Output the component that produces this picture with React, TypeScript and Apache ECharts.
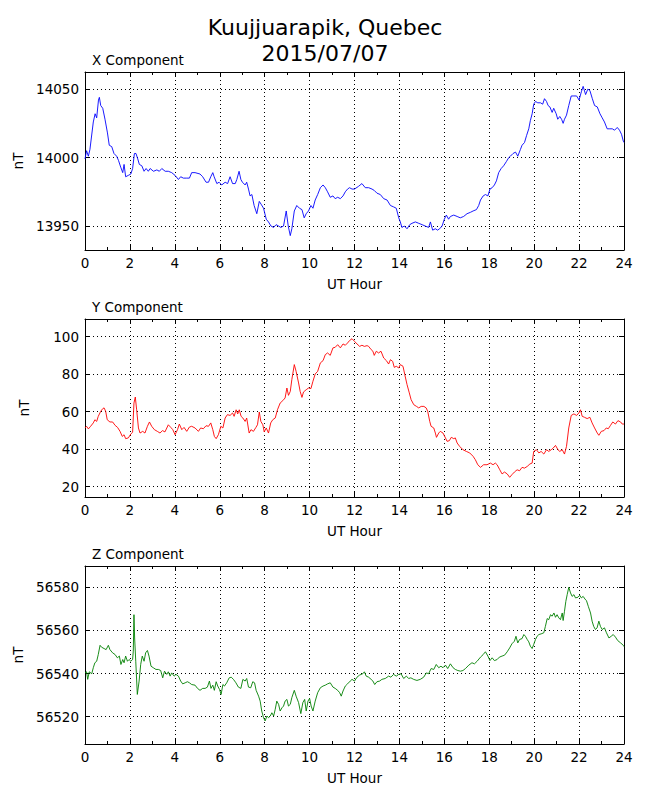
import React, { useEffect, useRef } from "react";
import * as echarts from "echarts";

const hoursX = [0, 0.07, 0.15, 0.22, 0.37, 0.45, 0.52, 0.6, 0.64, 0.7, 0.79, 0.89, 1.0, 1.08, 1.19, 1.29, 1.41, 1.49, 1.59, 1.68, 1.74, 1.81, 1.93, 2.04, 2.12, 2.2, 2.27, 2.35, 2.42, 2.53, 2.63, 2.72, 2.82, 2.9, 3.05, 3.2, 3.31, 3.42, 3.57, 3.71, 3.86, 4.01, 4.16, 4.26, 4.38, 4.53, 4.65, 4.75, 4.9, 5.12, 5.24, 5.39, 5.5, 5.6, 5.69, 5.75, 5.87, 5.97, 6.09, 6.24, 6.35, 6.46, 6.57, 6.69, 6.76, 6.86, 6.94, 7.01, 7.13, 7.2, 7.28, 7.35, 7.43, 7.53, 7.65, 7.76, 7.84, 7.95, 8.07, 8.17, 8.28, 8.4, 8.51, 8.62, 8.72, 8.84, 8.96, 9.05, 9.14, 9.21, 9.32, 9.43, 9.55, 9.66, 9.76, 9.85, 9.95, 10.06, 10.15, 10.25, 10.36, 10.48, 10.6, 10.7, 10.8, 10.92, 11.04, 11.14, 11.25, 11.37, 11.49, 11.59, 11.69, 11.78, 11.89, 12.0, 12.18, 12.33, 12.48, 12.63, 12.78, 12.88, 13.0, 13.15, 13.3, 13.45, 13.6, 13.74, 13.86, 13.97, 14.04, 14.11, 14.22, 14.34, 14.46, 14.56, 14.71, 14.86, 15.01, 15.15, 15.3, 15.38, 15.48, 15.6, 15.7, 15.79, 15.9, 16.0, 16.09, 16.19, 16.27, 16.42, 16.57, 16.71, 16.86, 17.01, 17.16, 17.28, 17.43, 17.53, 17.61, 17.73, 17.83, 17.94, 18.03, 18.13, 18.23, 18.32, 18.42, 18.53, 18.64, 18.76, 18.87, 18.94, 19.06, 19.17, 19.27, 19.39, 19.46, 19.57, 19.66, 19.76, 19.83, 19.91, 19.98, 20.06, 20.16, 20.28, 20.38, 20.46, 20.55, 20.62, 20.7, 20.8, 20.87, 20.98, 21.05, 21.14, 21.22, 21.29, 21.35, 21.44, 21.54, 21.65, 21.77, 21.89, 22.0, 22.1, 22.18, 22.29, 22.39, 22.48, 22.59, 22.69, 22.81, 22.93, 23.03, 23.13, 23.25, 23.37, 23.48, 23.58, 23.7, 23.8, 23.89, 23.97, 24.0];
const valuesX = [13999, 14005, 14001, 14006, 14026, 14032, 14029, 14042, 14044, 14038, 14036, 14028, 14018, 14009, 14008, 14003, 14001, 13998, 13993, 13989, 13995, 13986, 13987, 13988, 13992, 14003, 14003, 13999, 13995, 13994, 13990, 13992, 13990, 13992, 13990, 13991, 13990, 13992, 13990, 13990, 13989, 13987, 13984, 13986, 13985, 13985, 13985, 13989, 13989, 13988, 13986, 13982, 13982, 13986, 13989, 13986, 13981, 13982, 13980, 13982, 13981, 13986, 13981, 13981, 13984, 13990, 13984, 13982, 13980, 13982, 13977, 13972, 13973, 13965, 13959, 13968, 13966, 13963, 13955, 13953, 13950, 13949, 13951, 13950, 13949, 13950, 13961, 13950, 13943, 13948, 13961, 13965, 13963, 13962, 13956, 13959, 13961, 13965, 13963, 13969, 13973, 13978, 13980, 13978, 13975, 13971, 13972, 13970, 13971, 13970, 13972, 13975, 13977, 13978, 13977, 13977, 13979, 13981, 13978, 13978, 13977, 13976, 13974, 13973, 13970, 13969, 13965, 13964, 13963, 13956, 13953, 13949, 13950, 13948, 13951, 13952, 13953, 13952, 13951, 13950, 13949, 13953, 13947, 13948, 13947, 13948, 13950, 13955, 13958, 13955, 13957, 13958, 13957, 13956, 13957, 13959, 13960, 13961, 13962, 13965, 13969, 13972, 13973, 13972, 13977, 13978, 13980, 13983, 13989, 13992, 13994, 13997, 14000, 14001, 14003, 14004, 14001, 14006, 14009, 14011, 14016, 14021, 14027, 14032, 14039, 14041, 14040, 14040, 14039, 14043, 14041, 14038, 14037, 14033, 14036, 14032, 14028, 14030, 14028, 14025, 14028, 14031, 14038, 14045, 14045, 14045, 14042, 14048, 14052, 14046, 14050, 14049, 14043, 14038, 14037, 14032, 14029, 14026, 14021, 14021, 14021, 14020, 14022, 14020, 14017, 14012, 14011];

const hoursY = [0, 0.07, 0.15, 0.25, 0.37, 0.44, 0.52, 0.59, 0.7, 0.79, 0.85, 0.92, 0.99, 1.11, 1.23, 1.34, 1.45, 1.56, 1.66, 1.74, 1.81, 1.93, 2.04, 2.12, 2.18, 2.24, 2.3, 2.38, 2.45, 2.57, 2.67, 2.78, 2.87, 2.97, 3.09, 3.22, 3.34, 3.45, 3.56, 3.71, 3.82, 3.91, 4.01, 4.12, 4.2, 4.31, 4.41, 4.53, 4.65, 4.75, 4.9, 5.05, 5.15, 5.27, 5.39, 5.5, 5.6, 5.69, 5.76, 5.84, 5.94, 6.05, 6.14, 6.24, 6.34, 6.46, 6.57, 6.64, 6.73, 6.8, 6.87, 6.95, 7.03, 7.13, 7.2, 7.31, 7.39, 7.5, 7.61, 7.68, 7.76, 7.83, 7.92, 7.98, 8.07, 8.17, 8.27, 8.36, 8.47, 8.57, 8.69, 8.81, 8.91, 8.99, 9.06, 9.14, 9.21, 9.32, 9.4, 9.51, 9.58, 9.66, 9.73, 9.85, 9.95, 10.06, 10.15, 10.25, 10.36, 10.48, 10.6, 10.7, 10.8, 10.92, 11.04, 11.14, 11.25, 11.37, 11.49, 11.59, 11.69, 11.78, 11.89, 12.0, 12.11, 12.23, 12.33, 12.44, 12.56, 12.63, 12.74, 12.82, 12.88, 12.97, 13.07, 13.18, 13.3, 13.42, 13.52, 13.6, 13.7, 13.77, 13.86, 13.97, 14.04, 14.16, 14.24, 14.34, 14.44, 14.52, 14.64, 14.76, 14.86, 14.97, 15.09, 15.19, 15.26, 15.35, 15.41, 15.53, 15.6, 15.65, 15.75, 15.82, 15.94, 16.05, 16.12, 16.22, 16.31, 16.42, 16.49, 16.57, 16.68, 16.83, 16.98, 17.13, 17.28, 17.38, 17.49, 17.61, 17.75, 17.9, 18.05, 18.17, 18.27, 18.35, 18.47, 18.57, 18.68, 18.8, 18.91, 19.01, 19.12, 19.24, 19.35, 19.46, 19.57, 19.69, 19.81, 19.91, 19.98, 20.1, 20.21, 20.31, 20.43, 20.55, 20.65, 20.76, 20.85, 20.95, 21.06, 21.14, 21.25, 21.35, 21.44, 21.54, 21.65, 21.77, 21.89, 21.99, 22.06, 22.14, 22.24, 22.36, 22.48, 22.58, 22.69, 22.81, 22.88, 22.99, 23.11, 23.21, 23.3, 23.4, 23.5, 23.62, 23.73, 23.85, 23.92, 24.0];
const valuesY = [51.3, 52.2, 50.8, 52.2, 54, 55.7, 54.8, 57.5, 60.2, 61.6, 62, 60.2, 55.7, 54.5, 54.5, 52.7, 51.6, 49.5, 46.8, 47.7, 45.6, 46, 48.1, 49, 64.6, 67.8, 61, 51.3, 48.6, 49.5, 48.6, 52.2, 54.5, 52.2, 50.4, 49.5, 48.6, 49.9, 49.2, 53, 51.6, 50.4, 47.7, 50.4, 53.4, 50.4, 51.6, 49.5, 51.8, 52.2, 51.3, 49.5, 51.3, 50.9, 52.5, 52.2, 54, 50.4, 46.8, 45.6, 47.7, 52.2, 51.3, 56.6, 58.4, 58, 59.3, 57.5, 61, 58.8, 61, 57.5, 56.6, 54.8, 56.6, 48.6, 50.4, 49.5, 51.6, 53, 59.8, 54.8, 53, 49.2, 51.3, 48.6, 54, 55.7, 56.6, 61, 64.6, 65.9, 67.3, 72.6, 68.7, 70.8, 77.1, 85.1, 81.5, 75.3, 70.8, 67.6, 70.5, 71.7, 72.6, 72.3, 76.2, 80.1, 81.5, 86, 87.2, 90.4, 91.3, 90, 94, 94.3, 95.7, 94, 96.1, 95.4, 96.6, 97.9, 98.9, 97.5, 96.1, 94.8, 95.4, 94.8, 95.2, 94.8, 93.1, 92.2, 90, 92.2, 91.3, 92.2, 88.6, 87.2, 85.4, 87.7, 86.8, 83.6, 84.2, 83.3, 85.1, 84.2, 79.7, 74.4, 70, 66.4, 63.7, 62.8, 62, 62.8, 62.8, 62, 60.2, 54.8, 52.2, 51.3, 48.6, 46.3, 48.6, 49.5, 48.6, 46, 44.2, 44.5, 46.3, 45.6, 46, 43.3, 41.5, 39.7, 38.8, 38, 36.2, 34.4, 31.7, 30.3, 31.7, 31.7, 32.6, 31.7, 32.6, 31.7, 29, 26.8, 27.8, 26.8, 25, 26.4, 27.8, 29, 28.5, 30.3, 29.9, 30.8, 32.1, 32.6, 38.8, 39.7, 38, 38.8, 37.4, 39.7, 38.8, 39.7, 40.6, 42, 39.7, 38.8, 39.7, 37.4, 41.5, 51.3, 58, 58.8, 58, 59.3, 61, 57.5, 57, 56.3, 57, 54, 51.3, 48.6, 47.4, 49.5, 49.9, 51.3, 50.9, 52.7, 54.5, 53.4, 55.2, 54.5, 53.4, 53.4];

const hoursZ = [0, 0.07, 0.12, 0.19, 0.3, 0.37, 0.44, 0.52, 0.59, 0.67, 0.74, 0.85, 0.94, 1.04, 1.11, 1.23, 1.34, 1.44, 1.53, 1.6, 1.68, 1.74, 1.81, 1.89, 1.96, 2.04, 2.12, 2.15, 2.18, 2.21, 2.26, 2.33, 2.41, 2.48, 2.55, 2.63, 2.7, 2.78, 2.85, 2.94, 3.04, 3.16, 3.27, 3.37, 3.46, 3.54, 3.64, 3.71, 3.79, 3.86, 3.97, 4.05, 4.16, 4.26, 4.35, 4.46, 4.56, 4.65, 4.75, 4.9, 5.01, 5.12, 5.24, 5.35, 5.45, 5.54, 5.61, 5.69, 5.76, 5.84, 5.91, 5.99, 6.06, 6.14, 6.21, 6.31, 6.42, 6.51, 6.61, 6.72, 6.83, 6.94, 7.03, 7.13, 7.2, 7.28, 7.38, 7.47, 7.55, 7.62, 7.73, 7.8, 7.87, 7.95, 8.02, 8.1, 8.17, 8.25, 8.32, 8.4, 8.47, 8.54, 8.62, 8.69, 8.77, 8.84, 8.91, 8.99, 9.06, 9.14, 9.21, 9.32, 9.4, 9.51, 9.61, 9.7, 9.78, 9.85, 9.93, 10.0, 10.07, 10.15, 10.25, 10.36, 10.48, 10.6, 10.7, 10.8, 10.92, 11.04, 11.14, 11.25, 11.34, 11.41, 11.49, 11.59, 11.69, 11.81, 11.89, 12.0, 12.11, 12.23, 12.37, 12.44, 12.52, 12.63, 12.74, 12.82, 12.9, 13.0, 13.12, 13.22, 13.37, 13.52, 13.62, 13.74, 13.86, 13.97, 14.07, 14.19, 14.31, 14.41, 14.51, 14.63, 14.78, 14.93, 15.08, 15.2, 15.3, 15.41, 15.53, 15.64, 15.75, 15.85, 15.94, 16.05, 16.15, 16.27, 16.39, 16.49, 16.6, 16.72, 16.83, 16.94, 17.09, 17.23, 17.34, 17.46, 17.61, 17.73, 17.83, 17.94, 18.03, 18.13, 18.23, 18.35, 18.45, 18.57, 18.68, 18.8, 18.91, 19.01, 19.12, 19.19, 19.27, 19.35, 19.46, 19.54, 19.61, 19.69, 19.76, 19.83, 19.91, 19.98, 20.06, 20.13, 20.21, 20.31, 20.43, 20.5, 20.58, 20.65, 20.73, 20.8, 20.88, 20.95, 21.02, 21.1, 21.17, 21.25, 21.29, 21.35, 21.41, 21.47, 21.54, 21.62, 21.69, 21.77, 21.84, 21.95, 22.03, 22.1, 22.18, 22.26, 22.33, 22.41, 22.51, 22.58, 22.65, 22.73, 22.8, 22.88, 22.95, 23.03, 23.13, 23.22, 23.33, 23.43, 23.52, 23.62, 23.72, 23.85, 23.97, 24.0];
const valuesZ = [56540.3, 56540.8, 56537.3, 56540.8, 56539.9, 56542.7, 56545, 56545.7, 56548.8, 56553.1, 56552.2, 56551.6, 56551.1, 56553.1, 56551.1, 56549.6, 56548.8, 56547.3, 56548.1, 56544.2, 56546.5, 56545, 56548.1, 56545.7, 56546.5, 56545.7, 56546.5, 56550.4, 56567.3, 56556.5, 56545.7, 56530.3, 56536.5, 56544.2, 56548.1, 56545.7, 56549.6, 56550.7, 56548.1, 56543.4, 56542.7, 56541.9, 56541.9, 56541.4, 56538, 56541.1, 56539.6, 56540.8, 56538.8, 56540.3, 56538.8, 56539.6, 56538.8, 56536.5, 56535.2, 56535.7, 56536.2, 56535.7, 56534.9, 56534.6, 56533.1, 56532.2, 56533.1, 56533.1, 56533.7, 56536.5, 56533.1, 56534.6, 56532.2, 56536.2, 56534.2, 56532.6, 56530.3, 56534.9, 56534.2, 56535.7, 56538, 56538.3, 56537.3, 56535.7, 56533.7, 56533.1, 56537.3, 56536.5, 56537.7, 56533.7, 56533.4, 56536.2, 56535.7, 56532.2, 56529.5, 56527.2, 56522.6, 56519.5, 56518, 56520.3, 56519.5, 56520.3, 56521.8, 56520.3, 56523.4, 56527.2, 56525.7, 56522.6, 56524.1, 56524.9, 56527.2, 56528, 56524.9, 56525.7, 56528.8, 56532.2, 56529.5, 56526.5, 56521.4, 56526.5, 56528, 56522.6, 56527.2, 56528.5, 56524.9, 56522.6, 56527.2, 56531.1, 56533.4, 56534.2, 56534.6, 56535.2, 56535.7, 56533.7, 56533.1, 56532.2, 56531.1, 56529.5, 56531.9, 56534.2, 56535.2, 56536.5, 56537.3, 56536.5, 56538.3, 56539.3, 56539.9, 56540.8, 56538.8, 56538.3, 56537.3, 56536.5, 56534.9, 56536.2, 56536.5, 56537.3, 56537.7, 56538.8, 56538.3, 56539.6, 56538.8, 56539.6, 56539.9, 56537.7, 56538.8, 56537.7, 56538, 56537.3, 56536.8, 56537.3, 56538.3, 56540.3, 56539.9, 56542.3, 56541.9, 56544.2, 56542.7, 56543.4, 56542.7, 56543.9, 56542.3, 56544.5, 56542.7, 56541.9, 56541.4, 56541.1, 56541.4, 56542.3, 56543.9, 56545, 56544.5, 56545.7, 56547.6, 56548.8, 56550.1, 56548.1, 56546, 56547.3, 56546, 56546.5, 56547.6, 56548.1, 56548.5, 56550.1, 56551.9, 56553.8, 56555, 56557.3, 56554.2, 56555.8, 56556.2, 56558.1, 56557.3, 56555.8, 56554.7, 56552.7, 56551.6, 56553.5, 56555.8, 56557.3, 56558.1, 56558.4, 56558.9, 56561.9, 56565.5, 56565, 56567.3, 56566.6, 56568.1, 56566.1, 56567.3, 56565.8, 56565, 56568.1, 56564.6, 56568.9, 56573.5, 56576.6, 56580, 56577.4, 56575.8, 56576.6, 56575.1, 56575.4, 56576.3, 56575.1, 56575.8, 56574.6, 56573.8, 56571.2, 56568.1, 56564.3, 56561.9, 56560.4, 56561.2, 56564.3, 56561.9, 56560.4, 56561.2, 56558.9, 56556.5, 56557.3, 56558.1, 56556.9, 56555.3, 56554.2, 56553.1, 56552.5];

const ticksX = [13950, 14000, 14050];
const ticksY = [20, 40, 60, 80, 100];
const ticksZ = [56520, 56540, 56560, 56580];

const mainTitle = "Kuujjuarapik, Quebec";
const dateTitle = "2015/07/07";
const panelTitles = ["X Component", "Y Component", "Z Component"];
const yUnit = "nT";
const xName = "UT Hour";

const FONT = "DejaVu Sans";

function zip(h: number[], v: number[]) {
  return h.map((x, i) => [x, v[i]]);
}

export default function App() {
  const ref = useRef<HTMLDivElement>(null);
  useEffect(() => {
    if (!ref.current) return;
    const chart = echarts.init(ref.current, null, { renderer: "svg" });
    const panels = [
      { title: panelTitles[0], data: zip(hoursX, valuesX), ticks: ticksX, min: 13932.5, max: 14062.5, color: "#0000ff", top: 72 },
      { title: panelTitles[1], data: zip(hoursY, valuesY), ticks: ticksY, min: 14.5, max: 109.4, color: "#ff0000", top: 319 },
      { title: panelTitles[2], data: zip(hoursZ, valuesZ), ticks: ticksZ, min: 56507.3, max: 56589.9, color: "#008000", top: 566 },
    ];
    const black = "#000000";
    const textBase = { fontFamily: FONT, fontSize: 13.5, color: black };
    const dotted = { color: black, width: 1, type: [1, 3] as any };
    const xAxes: any[] = [];
    const yAxes: any[] = [];
    panels.forEach((p, i) => {
      xAxes.push({
        type: "value", gridIndex: i, min: 0, max: 24, interval: 2, position: "bottom",
        axisLine: { show: true, onZero: false, lineStyle: { color: black, width: 1 } },
        axisTick: { show: true, inside: true, length: 5, lineStyle: { color: black } },
        minorTick: { show: true, splitNumber: 2, length: 3, lineStyle: { color: black } },
        splitLine: { show: true, lineStyle: dotted },
        axisLabel: { ...textBase, margin: 6, formatter: (v: number) => String(v) },
        name: xName, nameLocation: "middle", nameGap: 27, nameTextStyle: { ...textBase },
      });
      xAxes.push({
        type: "value", gridIndex: i, min: 0, max: 24, interval: 2, position: "top",
        axisLine: { show: true, onZero: false, lineStyle: { color: black, width: 1 } },
        axisTick: { show: true, inside: true, length: 5, lineStyle: { color: black } },
        minorTick: { show: true, splitNumber: 2, length: 3, lineStyle: { color: black } },
        splitLine: { show: false },
        axisLabel: { show: false },
      });
      yAxes.push({
        type: "value", gridIndex: i, min: p.min, max: p.max, position: "left",
        axisLine: { show: true, onZero: false, lineStyle: { color: black, width: 1 } },
        axisTick: { show: true, inside: true, length: 5, customValues: p.ticks, lineStyle: { color: black } },
        splitLine: { show: true, lineStyle: dotted },
        axisLabel: { ...textBase, margin: 6, customValues: p.ticks, formatter: (v: number) => String(v) },
        name: yUnit, nameLocation: "middle", nameGap: 54, nameRotate: 90, nameTextStyle: { ...textBase },
      });
      yAxes.push({
        type: "value", gridIndex: i, min: p.min, max: p.max, position: "right",
        axisLine: { show: true, onZero: false, lineStyle: { color: black, width: 1 } },
        axisTick: { show: true, inside: true, length: 5, customValues: p.ticks, lineStyle: { color: black } },
        splitLine: { show: false },
        axisLabel: { show: false, customValues: p.ticks },
      });
    });
    const option: any = {
      animation: false,
      backgroundColor: "#ffffff",
      title: [
        { text: mainTitle, left: "center", top: 14, padding: 0, textStyle: { fontFamily: FONT, fontSize: 22, fontWeight: "normal", color: black, lineHeight: 26 } },
        { text: dateTitle, left: "center", top: 40, padding: 0, textStyle: { fontFamily: FONT, fontSize: 22, fontWeight: "normal", color: black, lineHeight: 26 } },
        ...panels.map((p) => ({ text: p.title, left: 92, top: p.top - 20, padding: 0, textStyle: { ...textBase, fontWeight: "normal", lineHeight: 16 } })),
      ],
      grid: panels.map((p) => ({ left: 85, top: p.top, width: 539, height: 178, containLabel: false })),
      xAxis: xAxes,
      yAxis: yAxes,
      series: panels.map((p, i) => ({
        type: "line", xAxisIndex: 2 * i, yAxisIndex: 2 * i, data: p.data, showSymbol: false, symbol: "none",
        lineStyle: { color: p.color, width: 0.9 }, itemStyle: { color: p.color }, silent: true,
      })),
    };
    chart.setOption(option);
    return () => chart.dispose();
  }, []);
  return <div ref={ref} style={{ position: "fixed", left: 0, top: 0, width: 650, height: 800, background: "#fff" }} />;
}
